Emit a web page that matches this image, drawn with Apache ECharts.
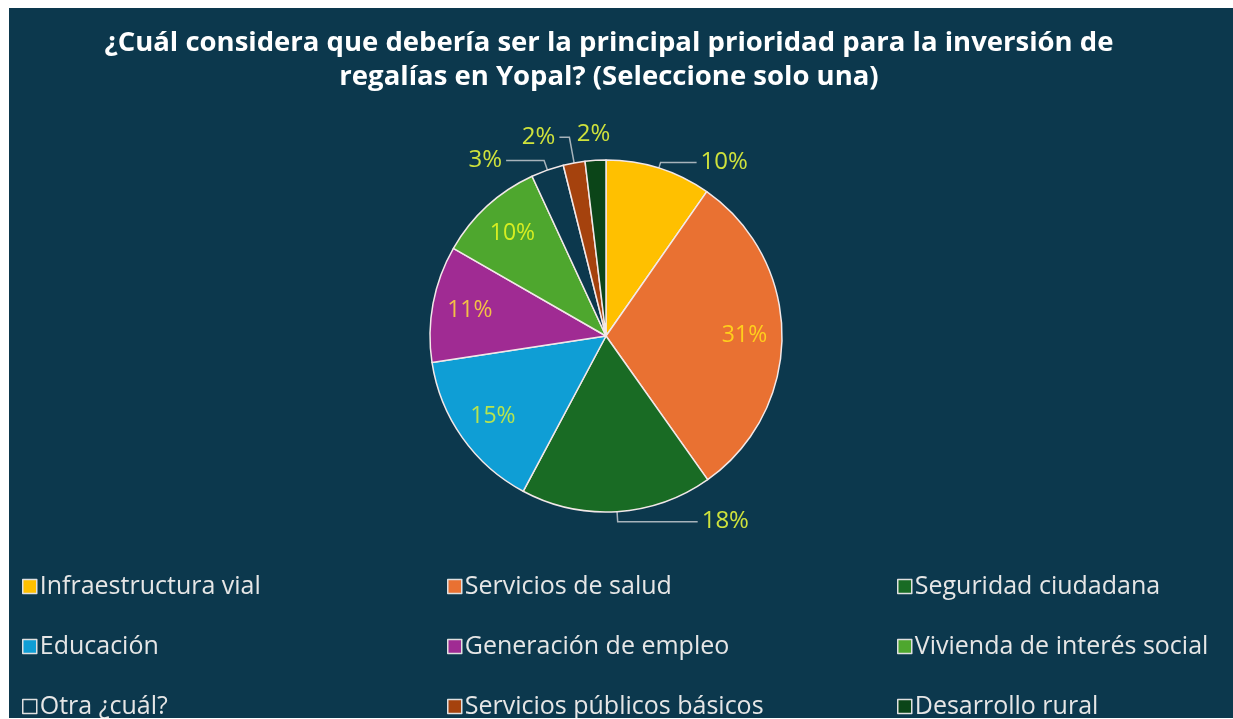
<!DOCTYPE html>
<html>
<head>
    <meta charset='utf-8'>
    <script src="https://cdn.jsdelivr.net/npm/echarts@6/dist/echarts.min.js"></script>
</head>
<body>
<style>
    html, body {
        width: 100%;
        height: 100%;
        margin: 0;
        padding: 0;
        background: #ffffff;
    }
    #main {
        position: absolute;
        left: 9px;
        top: 8px;
        width: 1224px;
        height: 710px;
    }
</style>
<div id="main"></div>
<script>
    // categories in slice order (clockwise from 12 o'clock)
    var categories = [
        'Infraestructura vial',
        'Servicios de salud',
        'Seguridad ciudadana',
        'Educación',
        'Generación de empleo',
        'Vivienda de interés social',
        'Otra ¿cuál?',
        'Servicios públicos básicos',
        'Desarrollo rural'
    ];
    // share of answers, %
    var values = [9.7, 30.5, 17.6, 14.8, 10.7, 9.8, 3.0, 2.0, 1.9];
    // which labels sit inside the slice
    var insideLabel = [false, true, false, true, true, true, false, false, false];

    var legendCols = [
        ['Infraestructura vial', 'Educación', 'Otra ¿cuál?'],
        ['Servicios de salud', 'Generación de empleo', 'Servicios públicos básicos'],
        ['Seguridad ciudadana', 'Vivienda de interés social', 'Desarrollo rural']
    ];

    var bg = '#0c384d';
    var palette = ['#ffc000', '#e97132', '#196b24', '#0f9ed5', '#a02b93', '#4ea72e', bg, '#a5420d', '#0b4518'];
    var labelColors = ['#cfe23c', '#ffcf1c', '#cfe23c', '#b8e44e', '#f3c046', '#d6ee22', '#cfe23c', '#cfe23c', '#cfe23c'];
    // leader line lengths for the outside labels
    var lineLen = [6, 0, 10, 0, 0, 0, 10, 26, 20];
    var lineLen2 = [36, 0, 80, 0, 0, 0, 38, 10, 0];

    var chart = echarts.init(document.getElementById('main'));

    var center = [597, 328];
    var fmt = function (p) {
        return Math.round(p.value) + '%';
    };

    var mainData = [];
    var overlayData = [];
    for (var i = 0; i < categories.length; i++) {
        mainData.push({
            name: categories[i],
            value: values[i],
            itemStyle: {color: palette[i]},
            label: {show: !insideLabel[i], color: labelColors[i]},
            labelLine: {show: !insideLabel[i] && i !== 8, length: lineLen[i], length2: lineLen2[i]}
        });
        overlayData.push({
            name: categories[i],
            value: values[i],
            label: {show: insideLabel[i], color: labelColors[i]}
        });
    }

    var legends = legendCols.map(function (col, k) {
        return {
            orient: 'vertical',
            left: [13, 438, 888][k],
            top: 566,
            height: 200,
            padding: 0,
            itemWidth: 14,
            itemHeight: 14,
            itemGap: 35,
            icon: 'rect',
            selectedMode: false,
            data: col,
            itemStyle: {borderColor: '#e0e0e0', borderWidth: 1.5},
            textStyle: {
                color: '#e6e6e6',
                fontSize: 25,
                lineHeight: 25,
                fontFamily: 'Open Sans, sans-serif',
                padding: [0, 0, 0, -2]
            }
        };
    });

    chart.setOption({
        backgroundColor: bg,
        animation: false,
        title: {
            text: '¿Cuál considera que debería ser la principal prioridad para la inversión de\nregalías en Yopal? (Seleccione solo una)',
            left: 595,
            top: 13,
            textAlign: 'center',
            textStyle: {
                color: '#ffffff',
                fontSize: 27.5,
                fontWeight: 'bold',
                lineHeight: 34,
                fontFamily: 'Open Sans, sans-serif'
            }
        },
        legend: legends,
        series: [{
            type: 'pie',
            center: center,
            radius: 176,
            startAngle: 90,
            clockwise: true,
            avoidLabelOverlap: false,
            silent: true,
            itemStyle: {borderColor: '#f2e8e8', borderWidth: 1.5},
            label: {
                position: 'outside',
                formatter: fmt,
                fontSize: 24,
                fontFamily: 'Open Sans, sans-serif',
                distanceToLabelLine: 4
            },
            labelLine: {
                smooth: false,
                lineStyle: {color: '#a7b3bb', width: 1.5}
            },
            // the smallest slice's label sits centred above it
            labelLayout: function (p) {
                if (p.dataIndex === 8) {
                    return {dx: 20, dy: -6};
                }
            },
            data: mainData
        }, {
            type: 'pie',
            center: center,
            radius: [95, 176],
            startAngle: 90,
            clockwise: true,
            silent: true,
            itemStyle: {color: 'rgba(0,0,0,0)', borderWidth: 0},
            label: {
                position: 'inside',
                formatter: fmt,
                fontSize: 23,
                fontFamily: 'Open Sans, sans-serif'
            },
            labelLine: {show: false},
            data: overlayData
        }]
    });

    window.onresize = function () {
        chart.resize();
    };
</script>
</body>
</html>
